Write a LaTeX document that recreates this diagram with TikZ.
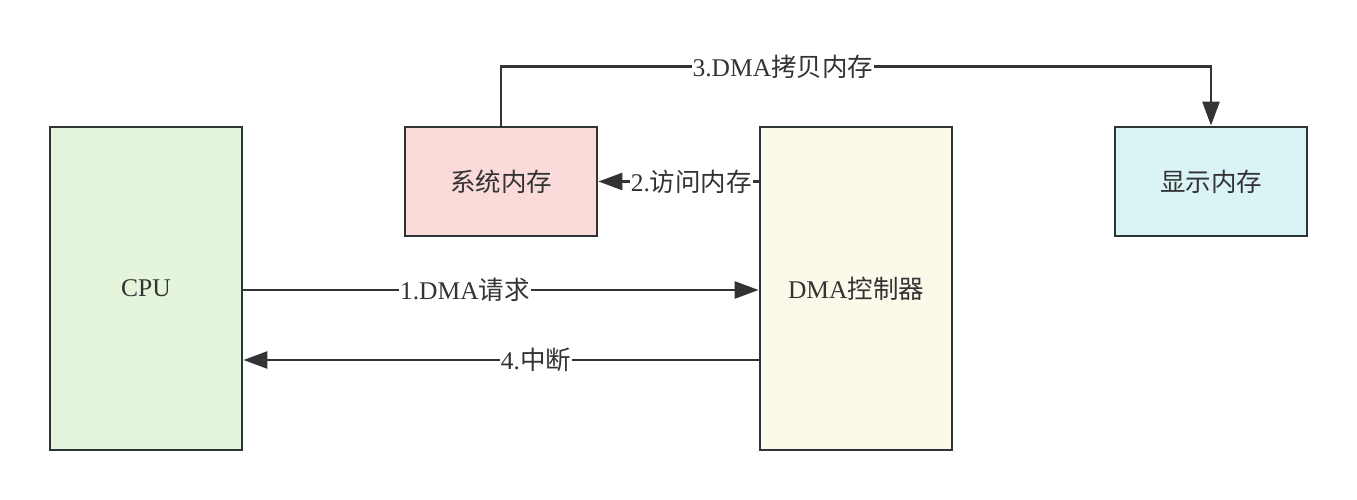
\documentclass[tikz,border=0pt]{standalone}
\usepackage{fontspec}
\setmainfont{Liberation Serif}
\newfontfamily\cjk{Noto Sans CJK SC}
\usetikzlibrary{arrows.meta}
\definecolor{bordc}{HTML}{2D3436}
\definecolor{linec}{HTML}{333333}
\definecolor{cpuf}{HTML}{E4F5DB}
\definecolor{memf}{HTML}{FADBDA}
\definecolor{dmaf}{HTML}{FCF9EA}
\definecolor{dispf}{HTML}{DAF3F4}
\tikzset{
  box/.style={draw=bordc, line width=2.8pt, rectangle, minimum width=192pt, text=linec, font=\fontsize{25.5}{30}\selectfont, inner sep=0pt},
  arr/.style={draw=linec, line width=2.6pt, -{Triangle[length=24pt,width=17pt]}},
  lbl/.style={fill=white, text=linec, font=\fontsize{25.5}{30}\selectfont, inner sep=1pt}
}
\begin{document}
\begin{tikzpicture}[x=1pt,y=-1pt]
\useasboundingbox (0,0) rectangle (1357,500);
\node[box, fill=cpuf, minimum height=323pt] (cpu) at (146,288.5) {CPU};
\node[box, fill=memf, minimum height=109pt] (mem) at (501,181.5) {{\cjk 系统内存}};
\node[box, fill=dmaf, minimum height=323pt] (dma) at (856,288.5) {DMA{\cjk 控制器}};
\node[box, fill=dispf, minimum height=109pt] (disp) at (1211,181.5) {{\cjk 显示内存}};
\draw[arr] ([yshift=-1.5pt]cpu.east) -- node[lbl, pos=0.43] (l1) {1.DMA{\cjk 请求}} ([yshift=-1.5pt]dma.west);
\draw[arr] ([yshift=-71.5pt]dma.west) -- node[lbl, pos=0.432] (l4) {4.{\cjk 中断}} ([yshift=-71.5pt]cpu.east);
\draw[arr] (dma.west |- mem.east) -- node[lbl, pos=0.42] (l2) {2.{\cjk 访问内存}} (mem.east);
\draw[arr] (mem.north) -- ++(0,-59) coordinate (c1) -| (disp.north);
\path (c1) -- (c1 -| disp.north) node[lbl, pos=0.397] (l3) {3.DMA{\cjk 拷贝内存}};
\end{tikzpicture}
\end{document}
